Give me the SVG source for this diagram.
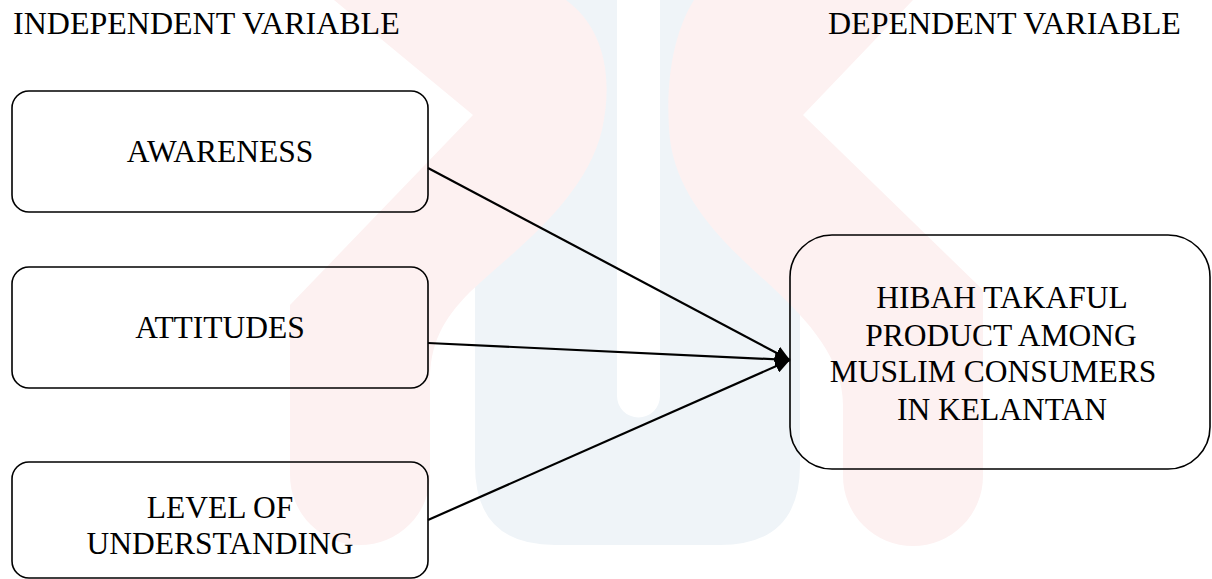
<svg xmlns="http://www.w3.org/2000/svg" width="1212" height="579" viewBox="0 0 1212 579">
<style>
.t{font-family:"Liberation Serif","Times New Roman",serif;font-size:31.5px;fill:#000}
.h{font-size:32px}
.c{text-anchor:middle}
.box{fill:none;stroke:#000;stroke-width:1.6}
.edge{stroke:#000;stroke-width:2.2;fill:none}
.wp{fill:#fdf1f1}
.wb{fill:#eff4f8}
</style>
<defs>
<marker id="ah" markerUnits="userSpaceOnUse" markerWidth="16" markerHeight="14" refX="15" refY="7" orient="auto">
<path d="M0,0 L15,7 L0,14 Z" fill="#000"/>
</marker>
</defs>
<rect width="1212" height="579" fill="#fff"/>
<g id="watermark">
<path class="wb" d="M475,0 L617,0 L617,396 A21.5,21.5 0 0 0 660,396 L660,0 L800,0 L800,465 Q800,545 720,545 L555,545 Q475,545 475,465 Z"/>
<path class="wp" d="M334,0 L566,0 C600,25 615,70 602,130 C585,200 515,250 470,292 C442,320 430,345 430,380 L430,475 A70,70 0 0 1 290,475 L290,305 L473,115 Z"/>
<path class="wp" d="M694,0 L913,0 L803,115 L983,290 L983,476 A70,70 0 0 1 843,476 L843,405 C843,360 810,322 770,285 C725,245 678,200 670,140 C664,80 675,30 694,0 Z"/>
</g>
<text class="t h" x="13" y="34">INDEPENDENT VARIABLE</text>
<text class="t h" x="828" y="34">DEPENDENT VARIABLE</text>
<g id="awareness">
<rect class="box" x="12" y="91" width="416" height="121" rx="17"/>
<text class="t c" x="220" y="162">AWARENESS</text>
</g>
<g id="attitudes">
<rect class="box" x="12" y="267" width="416" height="121" rx="17"/>
<text class="t c" x="220" y="338">ATTITUDES</text>
</g>
<g id="understanding">
<rect class="box" x="12" y="462" width="416" height="116" rx="17"/>
<text class="t c" x="220" y="518">LEVEL OF</text>
<text class="t c" x="220" y="554">UNDERSTANDING</text>
</g>
<g id="hibah">
<rect class="box" x="790" y="235" width="420" height="234" rx="42"/>
<text class="t c" x="1002" y="308">HIBAH TAKAFUL</text>
<text class="t c" x="1001" y="346">PRODUCT AMONG</text>
<text class="t c" x="993" y="382">MUSLIM CONSUMERS</text>
<text class="t c" x="1002" y="420">IN KELANTAN</text>
</g>
<g id="connectors">
<line class="edge" x1="428" y1="168" x2="790" y2="360" marker-end="url(#ah)"/>
<line class="edge" x1="428" y1="343" x2="790" y2="360" marker-end="url(#ah)"/>
<line class="edge" x1="428" y1="520" x2="790" y2="360" marker-end="url(#ah)"/>
</g>
</svg>
